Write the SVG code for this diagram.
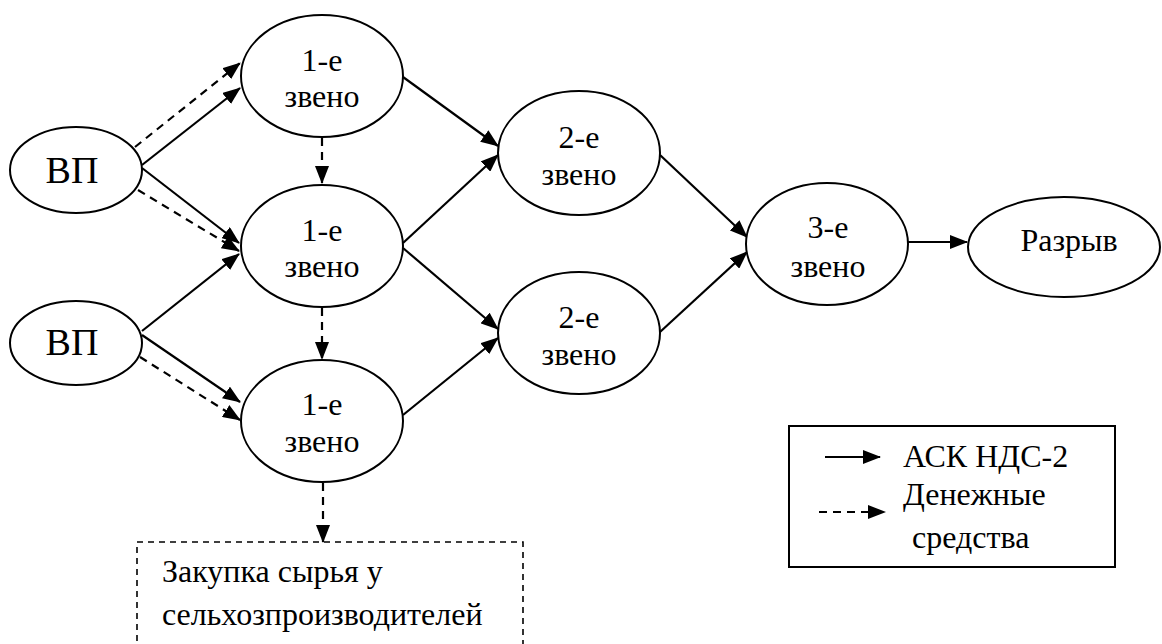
<svg xmlns="http://www.w3.org/2000/svg" width="1162" height="644" viewBox="0 0 1162 644">
<defs>
<style>
.n{fill:#fff;stroke:#000;stroke-width:2}
.f{font-family:'Times New Roman','Liberation Serif','DejaVu Serif','Noto Serif',Times,serif}
.t{font-size:32px;fill:#000;text-anchor:middle}
.tl{font-size:32px;fill:#000}
.big{font-size:38px}
.s{stroke:#000;stroke-width:2.2;fill:none}
.d{stroke:#000;stroke-width:2.2;fill:none;stroke-dasharray:8 6}
</style>
<marker id="ah" markerUnits="userSpaceOnUse" markerWidth="18" markerHeight="14" refX="17" refY="7" orient="auto" viewBox="0 0 18 14">
<path d="M0,0 L18,7 L0,14 Z" fill="#000"/>
</marker>
</defs>
<rect width="1162" height="644" fill="#fff"/>
<g id="connectors">
<line class="d" x1="135" y1="147" x2="240" y2="63" marker-end="url(#ah)"/>
<line class="s" x1="142" y1="165" x2="240" y2="88" marker-end="url(#ah)"/>
<line class="s" x1="142" y1="168" x2="239" y2="243" marker-end="url(#ah)"/>
<line class="d" x1="138" y1="190" x2="239" y2="251" marker-end="url(#ah)"/>
<line class="s" x1="142" y1="331" x2="239" y2="254" marker-end="url(#ah)"/>
<line class="s" x1="142" y1="335" x2="240" y2="402" marker-end="url(#ah)"/>
<line class="d" x1="140" y1="357" x2="240" y2="420" marker-end="url(#ah)"/>
<line class="d" x1="322" y1="138" x2="322" y2="183" marker-end="url(#ah)"/>
<line class="d" x1="322" y1="308" x2="322" y2="359" marker-end="url(#ah)"/>
<line class="d" x1="323" y1="483" x2="323" y2="542" marker-end="url(#ah)"/>
<line class="s" x1="403" y1="77" x2="498" y2="146" marker-end="url(#ah)"/>
<line class="s" x1="403" y1="243" x2="498" y2="155" marker-end="url(#ah)"/>
<line class="s" x1="403" y1="248" x2="498" y2="329" marker-end="url(#ah)"/>
<line class="s" x1="403" y1="415" x2="498" y2="338" marker-end="url(#ah)"/>
<line class="s" x1="660" y1="155" x2="747" y2="237" marker-end="url(#ah)"/>
<line class="s" x1="660" y1="332" x2="747" y2="252" marker-end="url(#ah)"/>
<line class="s" x1="908" y1="242" x2="967" y2="242" marker-end="url(#ah)"/>
</g>
<g class="f">
<g id="vp1">
<ellipse class="n" cx="76" cy="170" rx="66" ry="43"/>
<text class="t big" x="72" y="183">ВП</text>
</g>
<g id="vp2">
<ellipse class="n" cx="76" cy="343" rx="66" ry="42"/>
<text class="t big" x="72" y="355">ВП</text>
</g>
<g id="z1a">
<ellipse class="n" cx="322" cy="76" rx="81" ry="61"/>
<text class="t" x="322" y="71">1-е</text>
<text class="t" x="322" y="107">звено</text>
</g>
<g id="z1b">
<ellipse class="n" cx="322" cy="246" rx="81" ry="61"/>
<text class="t" x="322" y="241">1-е</text>
<text class="t" x="322" y="277">звено</text>
</g>
<g id="z1c">
<ellipse class="n" cx="322" cy="421" rx="81" ry="61"/>
<text class="t" x="322" y="415">1-е</text>
<text class="t" x="322" y="452">звено</text>
</g>
<g id="z2a">
<ellipse class="n" cx="579" cy="153" rx="81" ry="62"/>
<text class="t" x="579" y="148">2-е</text>
<text class="t" x="579" y="185">звено</text>
</g>
<g id="z2b">
<ellipse class="n" cx="579" cy="333" rx="81" ry="61"/>
<text class="t" x="579" y="328">2-е</text>
<text class="t" x="579" y="365">звено</text>
</g>
<g id="z3">
<ellipse class="n" cx="827" cy="244" rx="81" ry="61"/>
<text class="t" x="828" y="238">3-е</text>
<text class="t" x="828" y="277">звено</text>
</g>
<g id="razryv">
<ellipse class="n" cx="1064" cy="247" rx="96" ry="50"/>
<text class="t" x="1069" y="251">Разрыв</text>
</g>
<g id="zakupka">
<rect x="137" y="542" width="386" height="120" fill="none" stroke="#000" stroke-width="1.6" stroke-dasharray="6 5"/>
<text class="tl" x="162" y="582">Закупка сырья у</text>
<text class="tl" x="162" y="625">сельхозпроизводителей</text>
</g>
<g id="legend">
<rect x="789" y="426" width="326" height="141" fill="none" stroke="#000" stroke-width="2"/>
<line class="s" x1="825" y1="457" x2="880" y2="457" marker-end="url(#ah)"/>
<line class="d" x1="819" y1="512" x2="885" y2="512" marker-end="url(#ah)"/>
<text class="tl" x="903" y="467">АСК НДС-2</text>
<text class="tl" x="903" y="505">Денежные</text>
<text class="tl" x="912" y="548">средства</text>
</g>
</g>
</svg>
